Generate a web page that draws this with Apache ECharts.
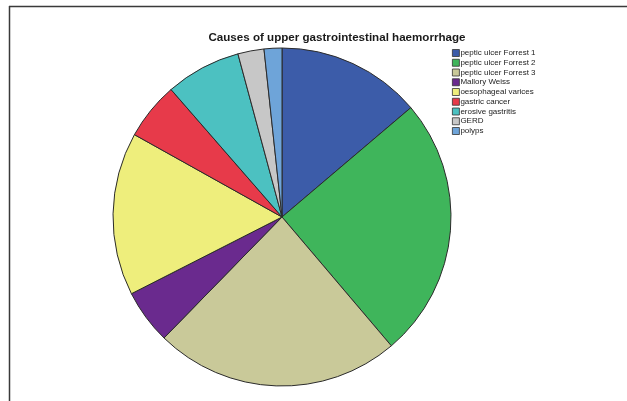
<!DOCTYPE html>
<html>
<head>
<meta charset="utf-8">
<script src="https://cdn.jsdelivr.net/npm/echarts@6/dist/echarts.min.js"></script>
<style>
  html, body { margin: 0; padding: 0; background: #fff; }
  #chart { width: 627px; height: 401px; }
</style>
</head>
<body>
<div id="chart"></div>
<script>
// Causes of upper gastrointestinal haemorrhage (share of cases, %)
const causes = [
  'peptic ulcer Forrest 1',
  'peptic ulcer Forrest 2',
  'peptic ulcer Forrest 3',
  'Mallory Weiss',
  'oesophageal varices',
  'gastric cancer',
  'erosive gastritis',
  'GERD',
  'polyps'
];
const shares = [13.8, 25.0, 23.5, 5.2, 15.6, 5.5, 7.2, 2.5, 1.7];
const palette = ['#3c5ca9', '#3fb55b', '#c9c999', '#6a2a8e', '#eeee7c', '#e73a4a', '#4cc1c1', '#c7c7c7', '#6ea4d9'];

const chart = echarts.init(document.getElementById('chart'), null, { renderer: 'canvas' });

chart.setOption({
  animation: false,
  backgroundColor: '#ffffff',
  color: palette,
  title: {
    text: 'Causes of upper gastrointestinal haemorrhage',
    left: 337,
    top: 32,
    textAlign: 'center',
    padding: 0,
    textStyle: {
      fontFamily: 'Liberation Sans, Arial, sans-serif',
      fontSize: 11.6,
      fontWeight: 'bold',
      color: '#1a1a1a'
    }
  },
  legend: {
    orient: 'vertical',
    left: 452,
    top: 49,
    padding: 0,
    itemWidth: 7,
    itemHeight: 7,
    itemGap: 1.75,
    icon: 'rect',
    itemStyle: { borderColor: '#333', borderWidth: 0.8 },
    textStyle: {
      fontFamily: 'Liberation Sans, Arial, sans-serif',
      fontSize: 8,
      lineHeight: 8,
      color: '#222',
      padding: [0, 0, 0, -4]
    },
    data: causes
  },
  graphic: [
    { type: 'line', shape: { x1: 9, y1: 6.5, x2: 627, y2: 6.5 }, style: { stroke: '#3a3a3a', lineWidth: 1.5 } },
    { type: 'line', shape: { x1: 9.5, y1: 6, x2: 9.5, y2: 401 }, style: { stroke: '#3a3a3a', lineWidth: 1.5 } }
  ],
  series: [{
    type: 'pie',
    center: [282, 217],
    radius: [0, 169],
    startAngle: 90,
    clockwise: true,
    label: { show: false },
    labelLine: { show: false },
    emphasis: { disabled: true },
    itemStyle: { borderColor: '#2b2b2b', borderWidth: 1 },
    data: causes.map((name, i) => ({ name: name, value: shares[i] }))
  }]
});
</script>
</body>
</html>
